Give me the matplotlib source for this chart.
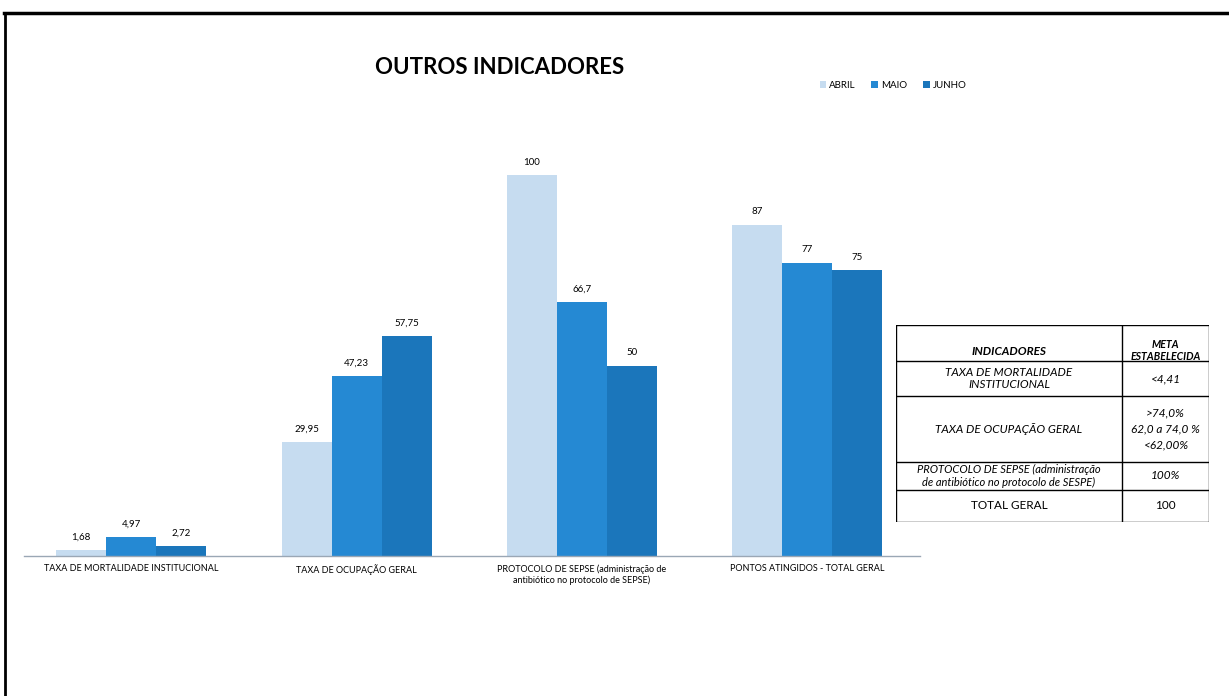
import matplotlib.pyplot as plt
from matplotlib.lines import Line2D
from matplotlib.patches import Patch
import numpy as np

plt.rcParams['font.family'] = ['Lato', 'DejaVu Sans']

categories = ['TAXA DE MORTALIDADE INSTITUCIONAL',
              'TAXA DE OCUPAÇÃO GERAL',
              'PROTOCOLO DE SEPSE (administração de\nantibiótico no protocolo de SEPSE)',
              'PONTOS ATINGIDOS - TOTAL GERAL']
months = ['ABRIL', 'MAIO', 'JUNHO']
abril = [1.68, 29.95, 100, 87]
maio = [4.97, 47.23, 66.7, 77]
junho = [2.72, 57.75, 50, 75]
colors = ['#c6dcf0', '#2589d3', '#1b76bb']

table_rows = [
    ['INDICADORES', 'META\nESTABELECIDA'],
    ['TAXA DE MORTALIDADE\nINSTITUCIONAL', '<4,41'],
    ['TAXA DE OCUPAÇÃO GERAL', '>74,0%\n62,0 a 74,0 %\n<62,00%'],
    ['PROTOCOLO DE SEPSE (administração\nde antibiótico no protocolo de SESPE)', '100%'],
    ['TOTAL GERAL', '100'],
]


def fmt(v):
    return ('%g' % v).replace('.', ',')


fig = plt.figure(figsize=(12.29, 6.96), dpi=100)

# page border (top and left edges only)
fig.add_artist(Line2D([4 / 1229, 1], [1 - 12.5 / 696] * 2, color='black', lw=2.5))
fig.add_artist(Line2D([5 / 1229] * 2, [0, 1 - 12.5 / 696], color='black', lw=2))

ax = fig.add_axes([24 / 1229, 140 / 696, 896 / 1229, 381 / 696])
x = np.arange(len(categories))
w = 0.222
for i, (vals, c) in enumerate(zip([abril, maio, junho], colors)):
    bars = ax.bar(x + (i - 1) * w, vals, w, color=c, label=months[i])
    for b, v in zip(bars, vals):
        ax.text(b.get_x() + b.get_width() / 2, v + 2.2, fmt(v), ha='center',
                va='bottom', fontsize=7, clip_on=False)

ax.set_xlim(-0.476, 3.5)
ax.set_ylim(0, 100)
ax.set_xticks(x)
ax.set_xticklabels(categories, fontsize=6.5)
ax.tick_params(axis='x', length=0, pad=6)
ax.set_yticks([])
for s in ['top', 'right', 'left']:
    ax.spines[s].set_visible(False)
ax.spines['bottom'].set_color('#9aa7b5')
ax.spines['bottom'].set_linewidth(1)

fig.text(500 / 1229, 1 - 67 / 696, 'OUTROS INDICADORES', ha='center',
         va='center', fontsize=16, fontweight='bold')

handles = [Patch(facecolor=c, edgecolor='none') for c in colors]
fig.legend(handles, months, loc='center', bbox_to_anchor=(893 / 1229, 1 - 85 / 696),
           ncol=3, frameon=False, fontsize=7, handlelength=0.7, handleheight=0.7,
           handletextpad=0.3, columnspacing=1.6)

# goals table
tab = fig.add_axes([896 / 1229, (696 - 522) / 696, 313 / 1229, 197 / 696])
tab.set_xlim(896, 1209)
tab.set_ylim(522, 325)
tab.axis('off')
col_x = [896, 1122, 1209]
row_y = [325, 361, 396, 462, 490, 522]
for yy in row_y:
    tab.plot([col_x[0], col_x[-1]], [yy, yy], color='black', lw=1)
for xx in col_x:
    tab.plot([xx, xx], [row_y[0], row_y[-1]], color='black', lw=1)
for r, row in enumerate(table_rows):
    yc = (row_y[r] + row_y[r + 1]) / 2
    for cidx, txt in enumerate(row):
        xc = (col_x[cidx] + col_x[cidx + 1]) / 2
        weight = 'bold' if r == 0 else 'normal'
        style = 'normal' if r == len(table_rows) - 1 else 'italic'
        ls = 1.6 if (r == 2 and cidx == 1) else 1.2
        fs = 8.5
        if r == 0 and cidx == 0:
            yc = row_y[1] - 9
        if r == 0 and cidx == 1:
            fs, ls, yc = 7.6, 1.1, yc - 1.5
        if r == 3 and cidx == 0:
            fs = 8
        tab.text(xc, yc, txt, ha='center', va='center', fontsize=fs,
                 fontweight=weight, fontstyle=style, linespacing=ls)

fig.savefig('out.png', dpi=100)
